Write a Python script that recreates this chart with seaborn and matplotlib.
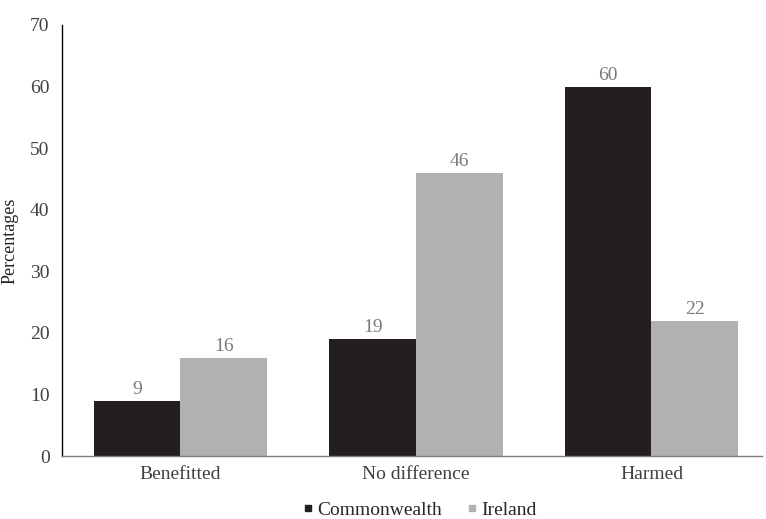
import matplotlib
matplotlib.use("Agg")
import matplotlib.pyplot as plt
import seaborn as sns
import pandas as pd
from matplotlib.lines import Line2D

categories = ["Benefitted", "No difference", "Harmed"]
commonwealth = [9, 19, 60]
ireland = [16, 46, 22]
series_names = ["Commonwealth", "Ireland"]
yticks = [0, 10, 20, 30, 40, 50, 60, 70]

df = pd.DataFrame({
    "category": categories * 2,
    "value": commonwealth + ireland,
    "series": [series_names[0]] * 3 + [series_names[1]] * 3,
})

sns.set_style("white")
plt.rcParams["font.family"] = ["Liberation Serif", "DejaVu Serif"]

colors = {"Commonwealth": "#231f20", "Ireland": "#b1b1b1"}

fig = plt.figure(figsize=(7.66, 5.19), dpi=100)
ax = fig.add_axes([0.081, 0.121, 0.914, 0.831])
sns.barplot(data=df, x="category", y="value", hue="series", palette=colors,
            width=0.735, ax=ax, legend=False, saturation=1, linewidth=0)

for cont in ax.containers:
    ax.bar_label(cont, labels=[f"{v:.0f}" for v in cont.datavalues],
                 padding=2, color="#7a7a7a", fontsize=14)

ax.set_ylim(0, 70)
ax.set_yticks(yticks)
ax.set_xlim(-0.503, 2.47)
ax.set_xlabel("")
ax.set_ylabel("Percentages", fontsize=13, color="#222222", labelpad=8)
ax.tick_params(axis="both", length=0, labelsize=14, colors="#404040")
ax.tick_params(axis="y", pad=9)
ax.tick_params(axis="x", pad=7)
for s in ["top", "right"]:
    ax.spines[s].set_visible(False)
ax.spines["left"].set_color("#000000")
ax.spines["left"].set_linewidth(1.0)
ax.spines["bottom"].set_color("#7f7f7f")
ax.spines["bottom"].set_linewidth(1.0)

handles = [Line2D([0], [0], marker="s", color="w", markerfacecolor=colors[n],
                  markeredgecolor=colors[n], markersize=5, label=n)
           for n in series_names]
fig.legend(handles=handles, loc="center", bbox_to_anchor=(0.545, 0.017),
           ncol=2, frameon=False, fontsize=14, handletextpad=0.0,
           columnspacing=1.0, handlelength=1.0, borderpad=0)

fig.savefig("out.png", dpi=100)
